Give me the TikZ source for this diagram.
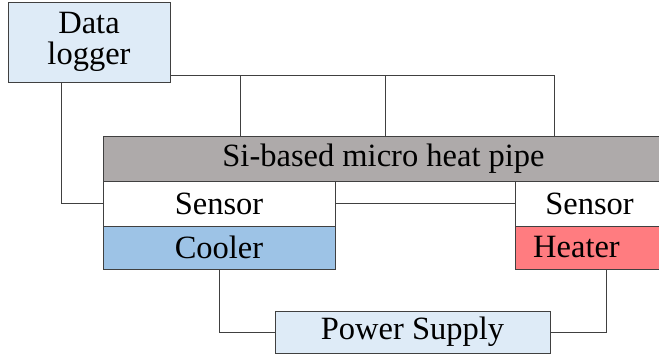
\documentclass[tikz,border=0pt]{standalone}
\usepackage{fontspec}
\setmainfont{Liberation Serif}
\usetikzlibrary{positioning}
\definecolor{paleblue}{RGB}{222,235,247}
\definecolor{pipegray}{RGB}{174,170,170}
\definecolor{coolblue}{RGB}{157,195,230}
\definecolor{heatred}{RGB}{255,124,128}
\definecolor{edge}{RGB}{64,64,64}

\begin{document}
\begin{tikzpicture}[
  x=1pt,y=-1pt,
  every node/.style={font=\fontsize{32.5}{31}\selectfont},
  blk/.style={rectangle,draw=edge,line width=.9pt,inner sep=0pt,align=center},
  wire/.style={draw=edge,line width=.9pt}
]
\useasboundingbox (0,0) rectangle (659,360);
\node[blk,fill=paleblue,minimum width=162,minimum height=80] (logger) at (89,42) {Data\\logger};
\node[blk,fill=pipegray,minimum width=561,minimum height=45] (pipe) at (383.5,158.5) {Si-based micro heat pipe};
\node[blk,fill=white,minimum width=232,minimum height=45] (sensorL) at (219,203.5) {Sensor};
\node[blk,fill=coolblue,minimum width=232,minimum height=43] (cooler) at (219,247.5) {Cooler};
\node[blk,fill=white,minimum width=149,minimum height=45] (sensorR) at (589.5,203.5) {Sensor};
\node[blk,fill=heatred,minimum width=149,minimum height=43] (heater) at (589.5,247.5) {\hspace*{-26pt}Heater};
\node[blk,fill=paleblue,minimum width=275,minimum height=42] (power) at (412.5,332) {Power Supply};
% logger to the pipe
\coordinate (tapA) at (240,75);
\coordinate (tapB) at (385,75);
\draw[wire] ([yshift=7]logger.south east) -| ([xshift=171]pipe.north);
\draw[wire] (tapA) -- (tapA |- pipe.north);
\draw[wire] (tapB) -- (tapB |- pipe.north);
\draw[wire] ([xshift=-28]logger.south) |- (sensorL.west);
\draw[wire] (sensorL.east) -- (sensorR.west);
% power lines
\draw[wire] (cooler.south) |- (power.west);
\draw[wire] ([xshift=17]heater.south) |- (power.east);
\end{tikzpicture}
\end{document}
